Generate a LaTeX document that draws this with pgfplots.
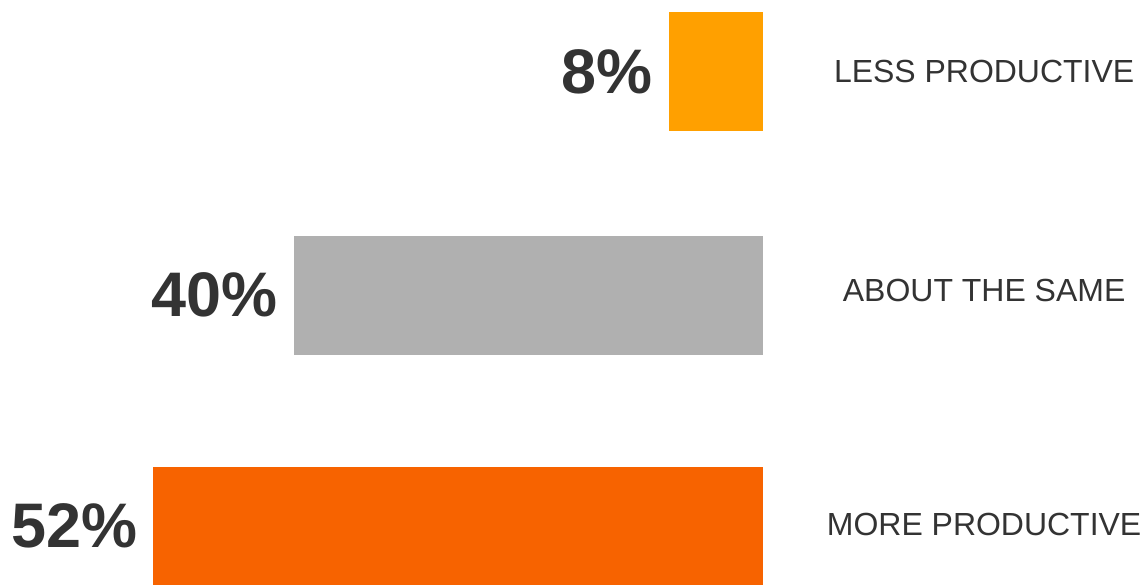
\documentclass[border=0pt]{standalone}
\usepackage{pgfplots}
\pgfplotsset{compat=1.18}
\usepackage{fontspec}
\setmainfont{Liberation Sans}
\definecolor{lessc}{HTML}{FFA000}
\definecolor{samec}{HTML}{B0B0B0}
\definecolor{morec}{HTML}{F76300}
\definecolor{txt}{HTML}{333333}
\begin{document}
\begin{tikzpicture}
\begin{axis}[
  width=574pt, height=292pt, scale only axis,
  x dir=reverse,
  xmin=-32.8, xmax=65.1,
  ymin=-584, ymax=0,
  hide axis, clip=false,
  xbar, bar width=119, bar shift=0pt,
  /pgf/number format/assume math mode=true,
  nodes near coords={\pgfmathprintnumber{\pgfplotspointmeta}\%},
  every node near coord/.append style={anchor=east, inner sep=0pt, xshift=-8pt,
     font=\fontsize{31.5}{34}\selectfont\bfseries, text=txt},
]
\path (rel axis cs:0,0) rectangle (rel axis cs:1,1);
\addplot[fill=lessc, draw=none] coordinates {(8,-71.5)};
\addplot[fill=samec, draw=none] coordinates {(40,-295.5)};
\addplot[fill=morec, draw=none] coordinates {(52,-526.5)};
\begin{scope}[every node/.style={font=\fontsize{16}{18}\selectfont, text=txt}]
\node at (axis cs:-18.9,-72) {LESS PRODUCTIVE};
\node at (axis cs:-18.9,-291) {ABOUT THE SAME};
\node at (axis cs:-18.9,-525) {MORE PRODUCTIVE};
\end{scope}
\end{axis}
\end{tikzpicture}
\end{document}
